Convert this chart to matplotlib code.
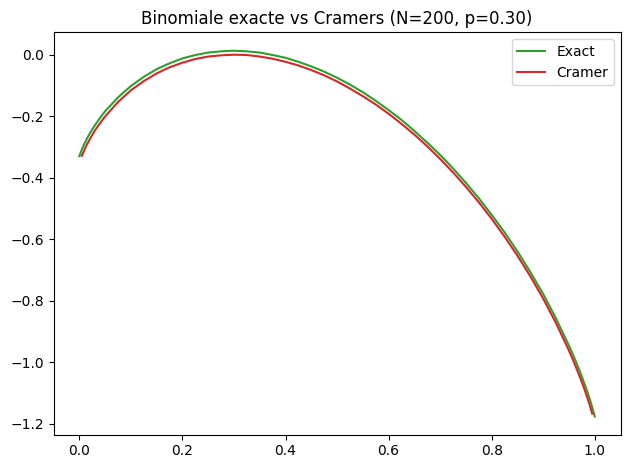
import matplotlib
matplotlib.use("Agg")
import matplotlib.pyplot as plt

# Values (rate x = k/N)
N = 200
P = 0.30

X_EXACT = [0.0, 0.005, 0.01, 0.015, 0.02, 0.025, 0.03, 0.04, 0.05, 0.075,
           0.1, 0.125, 0.15, 0.175, 0.2, 0.225, 0.25, 0.275, 0.3, 0.325,
           0.35, 0.375, 0.4, 0.425, 0.45, 0.475, 0.5, 0.525, 0.55, 0.575,
           0.6, 0.625, 0.65, 0.675, 0.7, 0.725, 0.75, 0.775, 0.8, 0.825,
           0.85, 0.875, 0.9, 0.925, 0.95, 0.96, 0.97, 0.975, 0.98, 0.985,
           0.99, 0.995, 1.0]
Y_EXACT = [-0.330, -0.308, -0.289, -0.272, -0.257, -0.243, -0.230, -0.206,
           -0.184, -0.139, -0.102, -0.072, -0.047, -0.028, -0.012, -0.001,
           0.007, 0.011, 0.013, 0.011, 0.007, -0.001, -0.010, -0.023, -0.038,
           -0.055, -0.075, -0.097, -0.122, -0.150, -0.180, -0.212, -0.248,
           -0.286, -0.326, -0.370, -0.417, -0.467, -0.521, -0.578, -0.640,
           -0.707, -0.779, -0.859, -0.947, -0.985, -1.026, -1.048, -1.071,
           -1.094, -1.119, -1.147, -1.177]

X_CRAMER = [0.005, 0.01, 0.015, 0.02, 0.025, 0.03, 0.04, 0.05, 0.075, 0.1,
            0.125, 0.15, 0.175, 0.2, 0.225, 0.25, 0.275, 0.3, 0.325, 0.35,
            0.375, 0.4, 0.425, 0.45, 0.475, 0.5, 0.525, 0.55, 0.575, 0.6,
            0.625, 0.65, 0.675, 0.7, 0.725, 0.75, 0.775, 0.8, 0.825, 0.85,
            0.875, 0.9, 0.925, 0.95, 0.96, 0.97, 0.975, 0.98, 0.985, 0.99,
            0.995]
Y_CRAMER = [-0.329, -0.309, -0.291, -0.276, -0.261, -0.247, -0.223, -0.201,
            -0.154, -0.116, -0.086, -0.061, -0.041, -0.026, -0.014, -0.006,
            -0.002, 0.000, -0.001, -0.006, -0.013, -0.023, -0.035, -0.050,
            -0.067, -0.087, -0.110, -0.135, -0.162, -0.192, -0.225, -0.260,
            -0.298, -0.339, -0.383, -0.430, -0.480, -0.534, -0.592, -0.654,
            -0.721, -0.794, -0.874, -0.963, -1.002, -1.044, -1.066, -1.089,
            -1.113, -1.139, -1.168]

fig, ax = plt.subplots(figsize=(6.3, 4.7), dpi=100)
ax.plot(X_EXACT, Y_EXACT, color="#2ca02c", label="Exact")
ax.plot(X_CRAMER, Y_CRAMER, color="#d62728", label="Cramer")
ax.set_title(f"Binomiale exacte vs Cramers (N={N}, p={P:.2f})")
ax.legend(loc="upper right")

# axes box measured on the reference
fig.subplots_adjust(left=0.085, right=0.985, bottom=0.075, top=0.931)
fig.savefig("out.png")
